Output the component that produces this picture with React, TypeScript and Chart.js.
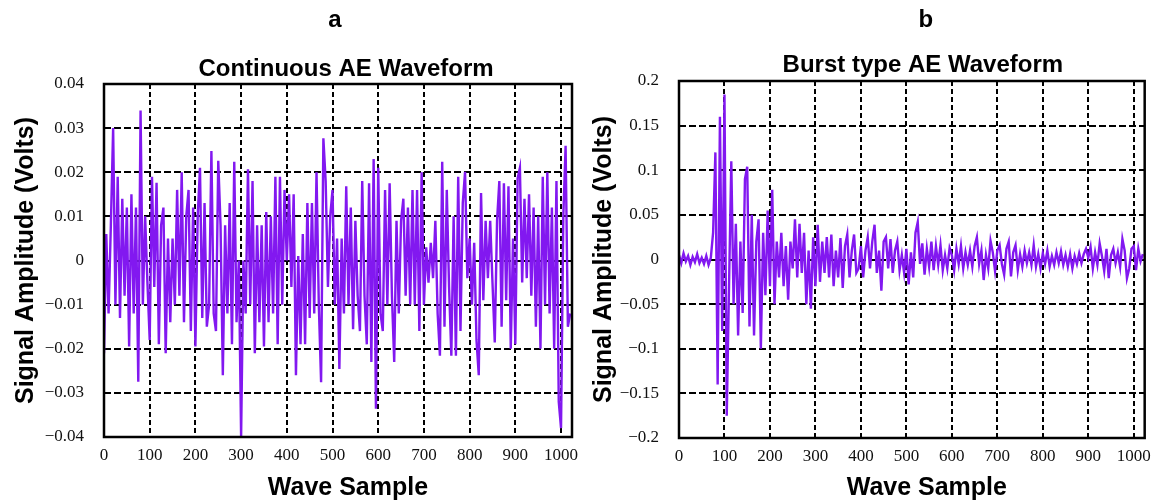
import React, { useEffect, useRef } from "react";
import { Chart, registerables } from "chart.js";

Chart.register(...registerables);

// ---------- data ----------
const SAMPLE_STEP = 5; // wave sample spacing between stored values

const xTickValues = [0, 100, 200, 300, 400, 500, 600, 700, 800, 900, 1000];
const xTickLabels = ["0", "100", "200", "300", "400", "500", "600", "700", "800", "900", "1000"];

const continuousYTicks = [-0.04, -0.03, -0.02, -0.01, 0, 0.01, 0.02, 0.03, 0.04];
const continuousYLabels = ["\u22120.04", "\u22120.03", "\u22120.02", "\u22120.01", "0", "0.01", "0.02", "0.03", "0.04"];

const burstYTicks = [-0.2, -0.15, -0.1, -0.05, 0, 0.05, 0.1, 0.15, 0.2];
const burstYLabels = ["\u22120.2", "\u22120.15", "\u22120.1", "\u22120.05", "0", "0.05", "0.1", "0.15", "0.2"];

// Continuous AE waveform (Volts), one value every 5 samples, 0..1020
const continuousSignal = [
  -0.021, 0.006, -0.012, 0.008, 0.030, -0.010, 0.019, -0.013, 0.014, -0.008,
  0.012, -0.0195, 0.015, -0.012, 0.012, -0.0275, 0.034, -0.010, 0.010, -0.005,
  -0.018, 0.019, -0.006, 0.0176, -0.019, 0.008, 0.012, -0.021, 0.005, -0.014,
  0.005, -0.010, 0.016, -0.008, 0.020, -0.014, 0.010, 0.016, -0.016, 0.012,
  -0.0195, 0.010, 0.021, -0.013, 0.013, -0.015, -0.010, 0.0248, -0.012, -0.016,
  0.0226, 0.008, -0.026, 0.008, -0.012, 0.013, -0.019, 0.0224, -0.014, 0.0,
  -0.040, 0.0, -0.012, 0.0207, -0.010, 0.018, -0.021, 0.008, -0.014, 0.008,
  -0.0195, 0.011, -0.014, 0.010, -0.012, 0.019, -0.019, 0.019, -0.010, 0.016,
  0.0, 0.015, -0.006, 0.015, -0.026, 0.001, -0.019, 0.006, -0.019, 0.013,
  -0.013, 0.013, -0.012, 0.020, -0.010, -0.0276, 0.0277, 0.018, -0.006, 0.010,
  0.016, -0.010, 0.005, -0.0246, 0.005, -0.012, 0.0168, -0.010, 0.012, -0.0156,
  0.009, -0.008, -0.016, 0.018, -0.008, -0.019, 0.0175, -0.023, 0.023, -0.0336,
  0.021, -0.012, -0.016, 0.016, -0.010, 0.0175, -0.008, -0.023, 0.009, -0.012,
  0.009, 0.014, -0.008, 0.012, -0.010, 0.016, -0.010, 0.016, -0.016, 0.020,
  -0.010, 0.003, -0.005, 0.004, -0.004, 0.009, -0.012, -0.0216, 0.0224, -0.015,
  0.016, -0.006, -0.0216, 0.010, -0.0216, 0.019, -0.016, 0.013, 0.0201, -0.004,
  0.005, -0.010, 0.004, -0.018, -0.026, 0.0153, -0.009, 0.009, -0.004, 0.009,
  -0.005, -0.0186, 0.009, 0.018, -0.015, 0.0175, -0.009, 0.0168, -0.020, 0.005,
  -0.019, 0.0186, 0.021, -0.005, 0.014, -0.004, 0.015, -0.008, 0.012, -0.015,
  0.010, -0.020, 0.019, -0.010, 0.020, -0.012, 0.012, -0.020, 0.018, -0.032,
  -0.038, 0.010, 0.026, -0.015, -0.012,
];

// Burst type AE waveform (Volts), one value every 5 samples, 0..1020
const burstSignal = [
  0.005, -0.004, 0.007, -0.002, 0.004, -0.006, 0.003, -0.003, 0.006, -0.004,
  0.002, -0.005, 0.004, -0.006, 0.002, 0.03, 0.12, -0.14, 0.16, -0.08,
  0.185, -0.175, -0.03, 0.11, -0.05, 0.04, -0.085, 0.02, -0.06, 0.09,
  0.104, -0.075, 0.05, -0.085, 0.02, 0.045, -0.1, 0.03, -0.04, 0.055,
  -0.03, 0.078, -0.05, 0.02, -0.02, 0.03, -0.03, 0.015, -0.045, 0.02,
  -0.01, 0.045, -0.02, 0.04, -0.015, 0.03, -0.05, 0.01, -0.055, 0.025,
  -0.03, 0.039, -0.025, 0.02, -0.015, 0.025, -0.02, 0.028, -0.03, 0.01,
  -0.02, 0.024, -0.032, 0.015, 0.028, -0.02, 0.01, 0.028, -0.015, -0.01,
  0.015, -0.02, 0.01, 0.025, -0.01, 0.02, 0.039, -0.015, 0.01, -0.035,
  0.02, 0.025, -0.01, 0.023, -0.015, 0.01, 0.02, -0.012, 0.005, -0.015,
  0.012, -0.028, 0.008, -0.02, 0.03, 0.042, -0.005, 0.018, -0.017, 0.012,
  -0.008, 0.02, -0.012, 0.015, -0.006, 0.016, -0.012, 0.005, -0.01, 0.013,
  0.005, -0.012, 0.012, -0.005, 0.015, -0.01, 0.008, -0.006, 0.01, -0.008,
  0.015, 0.025, -0.005, 0.01, -0.023, 0.005, -0.01, 0.021, 0.008, -0.013,
  0.01, 0.016, -0.005, -0.017, 0.012, 0.02, -0.019, 0.008, 0.016, -0.012,
  0.006, -0.008, 0.01, -0.004, 0.008, -0.006, 0.016, -0.008, 0.006, -0.01,
  0.007, -0.005, 0.01, -0.008, 0.004, -0.006, 0.008, -0.004, 0.009, -0.006,
  0.005, -0.008, 0.006, -0.01, 0.004, -0.005, 0.007, -0.004, 0.006, 0.012,
  0.002, 0.014, -0.01, 0.008, -0.006, 0.018, 0.004, -0.013, 0.012, -0.021,
  0.005, 0.012, -0.004, 0.008, -0.008, 0.023, 0.01, -0.021, -0.01, 0.012,
  0.015, -0.012, 0.012, -0.002, 0.006,
];

// ---------- styling ----------
const LINE_COLOR = "rgb(130, 24, 240)";
const HEIGHT = 504;
const BOLD_FONT = '"Liberation Sans", Arial, Helvetica, sans-serif';
const TICK_FONT = '"Liberation Serif", "Times New Roman", serif';

type PanelCfg = {
  key: string;
  left: number;
  width: number;
  area: { left: number; right: number; top: number; bottom: number };
  letter: string;
  title: string;
  values: number[];
  yMin: number;
  yMax: number;
  yTicks: number[];
  yLabels: string[];
  yTitleX: number;
  letterDx: number;
  titleDx: number;
  titleY: number;
  xTitleDx: number;
};

const panels: PanelCfg[] = [
  {
    key: "a",
    left: 0,
    width: 600,
    area: { left: 104, right: 572, top: 84, bottom: 437 },
    letter: "a",
    title: "Continuous AE Waveform",
    values: continuousSignal,
    yMin: -0.04,
    yMax: 0.04,
    yTicks: continuousYTicks,
    yLabels: continuousYLabels,
    yTitleX: 26,
    letterDx: -3,
    titleDx: 8,
    titleY: 76,
    xTitleDx: 10,
  },
  {
    key: "b",
    left: 575,
    width: 584,
    area: { left: 104, right: 574, top: 81, bottom: 438 },
    letter: "b",
    title: "Burst type AE Waveform",
    values: burstSignal,
    yMin: -0.2,
    yMax: 0.2,
    yTicks: burstYTicks,
    yLabels: burstYLabels,
    yTitleX: 29,
    letterDx: 14,
    titleDx: 11,
    titleY: 72,
    xTitleDx: 15,
  },
];

function Panel({ cfg }: { cfg: PanelCfg }) {
  const ref = useRef<HTMLCanvasElement | null>(null);

  useEffect(() => {
    const canvas = ref.current;
    if (!canvas) return;

    const framePlugin = {
      id: "frameAndTexts" + cfg.key,
      afterDatasetsDraw(chart: any) {
        const { ctx, chartArea } = chart;
        ctx.save();
        ctx.strokeStyle = "#000";
        ctx.lineWidth = 2.5;
        ctx.setLineDash([]);
        ctx.strokeRect(chartArea.left, chartArea.top, chartArea.right - chartArea.left, chartArea.bottom - chartArea.top);
        ctx.restore();
      },
      afterDraw(chart: any) {
        const { ctx, chartArea } = chart;
        const cx = (chartArea.left + chartArea.right) / 2;
        const cy = (chartArea.top + chartArea.bottom) / 2;
        ctx.save();
        ctx.fillStyle = "#000";
        ctx.textAlign = "center";
        ctx.font = `bold 24px ${BOLD_FONT}`;
        ctx.textBaseline = "alphabetic";
        ctx.fillText(cfg.letter, cx + cfg.letterDx, 27);
        ctx.fillText(cfg.title, cx + cfg.titleDx, cfg.titleY);
        ctx.font = `bold 25px ${BOLD_FONT}`;
        ctx.textBaseline = "middle";
        ctx.fillText("Wave Sample", cx + cfg.xTitleDx, 488);
        ctx.translate(cfg.yTitleX, cy);
        ctx.rotate(-Math.PI / 2);
        ctx.fillText("Signal Amplitude (Volts)", 0, 0);
        ctx.restore();
      },
    };

    const gridColor = (ctx: any, count: number, skipLast: boolean) => {
      if (ctx.index === 0) return "rgba(0,0,0,0)";
      if (skipLast && ctx.index === count - 1) return "rgba(0,0,0,0)";
      return "#000";
    };

    const chart = new Chart(canvas, {
      type: "line",
      data: {
        datasets: [
          {
            data: cfg.values.map((v, i) => ({ x: i * SAMPLE_STEP, y: v })),
            borderColor: LINE_COLOR,
            borderWidth: 2.4,
            pointRadius: 0,
            tension: 0,
            fill: false,
          },
        ],
      },
      options: {
        responsive: false,
        animation: false,
        events: [],
        layout: {
          padding: { left: 0, top: cfg.area.top, right: cfg.width - cfg.area.right, bottom: 0 },
        },
        plugins: {
          legend: { display: false },
          tooltip: { enabled: false },
          title: { display: false },
        },
        scales: {
          x: {
            type: "linear",
            min: 0,
            max: 1024,
            afterBuildTicks: (s: any) => {
              s.ticks = xTickValues.map((v) => ({ value: v }));
            },
            afterFit: (s: any) => {
              s.height = HEIGHT - cfg.area.bottom;
            },
            grid: {
              color: (ctx: any) => gridColor(ctx, xTickValues.length, false),
              lineWidth: 2,
              drawTicks: false,
            },
            border: { display: false, dash: [5, 3] },
            ticks: {
              color: "#111",
              font: { family: TICK_FONT, size: 17 },
              padding: 8,
              maxRotation: 0,
              autoSkip: false,
              callback: (_v: any, i: number) => xTickLabels[i],
            },
          },
          y: {
            type: "linear",
            min: cfg.yMin,
            max: cfg.yMax,
            afterBuildTicks: (s: any) => {
              s.ticks = cfg.yTicks.map((v) => ({ value: v }));
            },
            afterFit: (s: any) => {
              s.width = cfg.area.left;
            },
            grid: {
              color: (ctx: any) => gridColor(ctx, cfg.yTicks.length, true),
              lineWidth: 2,
              drawTicks: false,
            },
            border: { display: false, dash: [7, 3] },
            ticks: {
              color: "#111",
              font: { family: TICK_FONT, size: 17 },
              padding: 20,
              autoSkip: false,
              callback: (_v: any, i: number) => cfg.yLabels[i],
            },
          },
        },
      } as any,
      plugins: [framePlugin],
    });

    return () => chart.destroy();
  }, [cfg]);

  return (
    <canvas
      ref={ref}
      width={cfg.width}
      height={HEIGHT}
      style={{ position: "absolute", left: cfg.left, top: 0, width: cfg.width, height: HEIGHT }}
    />
  );
}

export default function App() {
  return (
    <div style={{ position: "absolute", left: 0, top: 0, width: 1159, height: HEIGHT, background: "#fff", overflow: "hidden" }}>
      {panels.map((p) => (
        <Panel key={p.key} cfg={p} />
      ))}
    </div>
  );
}
